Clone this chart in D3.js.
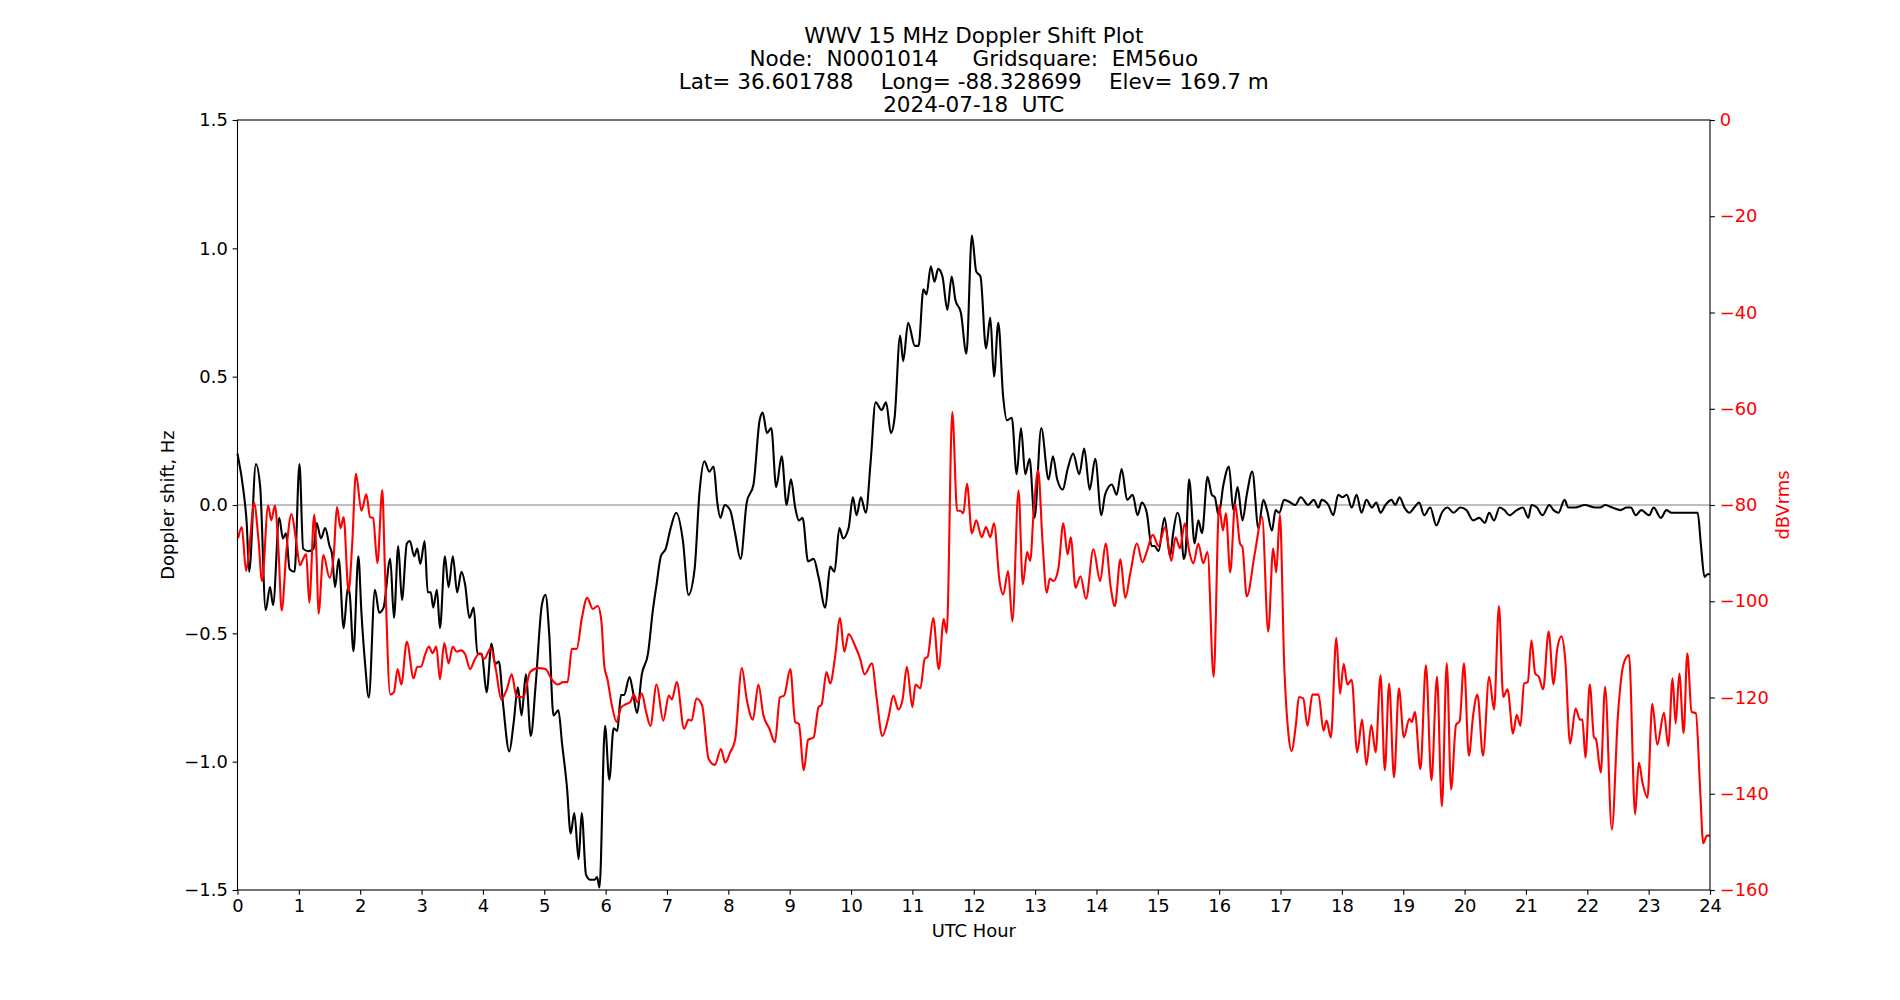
<!DOCTYPE html>
<html lang="en">
<head>
<meta charset="UTF-8">
<title>WWV Doppler</title>
<script src="https://cdn.jsdelivr.net/npm/d3@7"></script>
<style>
  body { margin: 0; background: #fff; }
  svg text { font-family: "DejaVu Sans", sans-serif; }
  .tick line { stroke: #000; stroke-width: 1.1px; }
  .tick text { font-size: 17.9px; }
</style>
</head>
<body>
<svg id="chart" width="1900" height="1000"></svg>
<script>
// chart values
var titleLines = [
  "WWV 15 MHz Doppler Shift Plot",
  "Node:  N0001014     Gridsquare:  EM56uo",
  "Lat= 36.601788    Long= -88.328699    Elev= 169.7 m",
  "2024-07-18  UTC"
];
var xTicks = d3.range(0, 25);
var dopplerTicks = [-1.5, -1.0, -0.5, 0.0, 0.5, 1.0, 1.5];
var powerTicks = [0, -20, -40, -60, -80, -100, -120, -140, -160];

// doppler shift, Hz (black)
var dopplerHours = [0.00,0.10,0.15,0.19,0.30,0.37,0.46,0.53,0.58,0.68,0.74,0.79,0.85,0.93,1.01,1.07,1.15,1.24,1.29,1.36,1.43,1.50,1.54,1.59,1.65,1.73,1.80,1.83,1.89,1.97,2.02,2.08,2.14,2.24,2.31,2.38,2.49,2.55,2.62,2.68,2.76,2.81,2.88,2.93,2.98,
  3.05,3.10,3.15,3.19,3.25,3.30,3.38,3.44,3.51,3.58,3.65,3.71,3.78,3.85,3.91,3.98,4.06,4.14,4.20,4.26,4.33,4.43,4.50,4.57,4.63,4.70,4.78,4.86,4.96,5.02,5.08,5.15,5.23,5.29,5.37,5.43,5.49,5.56,5.61,5.68,5.75,5.82,5.86,5.90,
  5.99,6.06,6.13,6.19,6.25,6.30,6.39,6.44,6.51,6.59,6.69,6.77,6.83,6.90,6.98,7.06,7.15,7.26,7.35,7.45,7.53,7.61,7.69,7.76,7.82,7.87,7.94,8.03,8.11,8.20,8.30,8.41,8.51,8.56,8.63,8.70,8.78,8.87,8.95,9.02,9.09,
  9.15,9.21,9.30,9.39,9.47,9.58,9.66,9.73,9.81,9.87,9.96,10.03,10.09,10.16,10.24,10.32,10.40,10.50,10.57,10.65,10.71,10.80,10.85,10.93,11.04,11.10,11.18,11.23,11.30,11.36,11.42,11.49,11.57,11.64,11.70,11.79,11.88,
  11.97,12.04,12.11,12.20,12.27,12.33,12.40,12.48,12.54,12.62,12.70,12.77,12.84,12.91,12.99,13.10,13.22,13.29,13.36,13.45,13.53,13.62,13.72,13.80,13.89,13.98,14.08,14.14,14.25,14.33,14.41,14.50,14.59,14.67,14.74,14.82,14.90,14.95,15.01,
  15.11,15.20,15.25,15.32,15.38,15.42,15.45,15.51,15.60,15.66,15.72,15.81,15.88,15.93,15.99,16.07,16.16,16.23,16.30,16.38,16.45,16.54,16.64,16.72,16.78,16.86,16.92,16.98,17.06,17.16,17.24,17.33,17.45,17.54,17.62,17.67,17.78,17.86,17.94,
  18.01,18.08,18.16,18.24,18.32,18.40,18.49,18.56,18.63,18.71,18.81,18.87,18.94,19.02,19.10,19.18,19.26,19.34,19.44,19.54,19.63,19.72,19.82,19.93,20.03,20.14,20.24,20.33,20.40,20.48,20.57,20.65,20.73,20.85,20.95,
  21.04,21.09,21.18,21.27,21.38,21.45,21.53,21.63,21.69,21.80,21.96,22.13,22.21,22.29,22.41,22.54,22.64,22.71,22.79,22.88,23.01,23.08,23.20,23.29,23.37,23.44,23.54,23.70,23.77,23.80,23.85,23.91,23.96,24.00];
var dopplerHz = [0.20,0.05,-0.07,-0.26,0.16,0.07,-0.41,-0.32,-0.39,-0.05,-0.13,-0.11,-0.25,-0.26,0.16,-0.17,-0.18,-0.17,-0.07,-0.13,-0.09,-0.16,-0.19,-0.32,-0.21,-0.48,-0.32,-0.35,-0.57,-0.20,-0.42,-0.62,-0.75,-0.33,-0.42,-0.40,-0.21,-0.44,-0.16,-0.37,-0.15,-0.14,-0.20,-0.17,-0.23,
  -0.14,-0.34,-0.34,-0.40,-0.33,-0.48,-0.20,-0.32,-0.20,-0.34,-0.26,-0.31,-0.44,-0.40,-0.58,-0.58,-0.73,-0.54,-0.62,-0.61,-0.78,-0.96,-0.85,-0.71,-0.82,-0.66,-0.90,-0.70,-0.39,-0.35,-0.50,-0.82,-0.80,-0.93,-1.10,-1.28,-1.20,-1.38,-1.20,-1.44,-1.46,-1.46,-1.45,-1.49,
  -0.86,-1.07,-0.87,-0.88,-0.74,-0.74,-0.67,-0.72,-0.81,-0.66,-0.58,-0.41,-0.31,-0.20,-0.17,-0.09,-0.03,-0.14,-0.35,-0.25,0.05,0.17,0.13,0.15,0.01,-0.05,0.00,-0.02,-0.11,-0.21,0.01,0.08,0.33,0.36,0.28,0.30,0.07,0.19,0.00,0.10,-0.01,
  -0.06,-0.05,-0.22,-0.21,-0.28,-0.40,-0.24,-0.26,-0.09,-0.13,-0.09,0.03,-0.04,0.03,-0.03,0.17,0.40,0.37,0.40,0.28,0.34,0.66,0.56,0.71,0.62,0.62,0.84,0.82,0.93,0.87,0.92,0.89,0.76,0.89,0.80,0.75,0.59,
  1.05,0.91,0.89,0.61,0.73,0.50,0.71,0.42,0.33,0.34,0.12,0.30,0.12,0.18,-0.05,0.30,0.10,0.19,0.10,0.06,0.14,0.20,0.12,0.22,0.06,0.18,-0.04,0.04,0.08,0.04,0.14,0.02,0.04,-0.04,0.01,-0.03,-0.16,-0.16,-0.18,
  -0.05,-0.20,-0.11,-0.03,-0.09,-0.21,-0.19,0.10,-0.15,-0.06,-0.11,0.11,0.04,0.03,-0.04,0.08,0.15,-0.02,0.07,-0.06,0.04,0.13,-0.09,0.02,-0.02,-0.10,-0.02,-0.03,0.02,0.01,0.00,0.03,0.00,0.02,-0.01,0.02,0.00,-0.04,0.04,
  0.03,0.04,-0.01,0.04,-0.03,0.02,-0.01,0.01,-0.03,0.00,0.02,0.00,0.03,-0.01,-0.03,-0.01,0.01,-0.04,-0.01,-0.08,-0.03,-0.01,-0.03,-0.01,-0.02,-0.06,-0.05,-0.07,-0.03,-0.06,-0.01,-0.02,-0.04,-0.02,-0.01,
  -0.05,0.00,-0.01,-0.04,0.00,-0.02,-0.03,0.02,-0.01,-0.01,0.00,-0.01,-0.01,0.00,-0.01,-0.02,-0.01,-0.01,-0.04,-0.02,-0.04,-0.01,-0.05,-0.02,-0.03,-0.03,-0.03,-0.03,-0.03,-0.03,-0.15,-0.28,-0.27,-0.27];

// signal level, dBVrms (red)
var powerHours = [0.01,0.07,0.14,0.20,0.27,0.34,0.40,0.50,0.55,0.61,0.67,0.72,0.80,0.88,0.95,1.02,1.07,1.12,1.17,1.25,1.29,1.32,1.40,1.50,1.57,1.62,1.68,1.73,1.81,1.87,1.93,2.02,2.10,2.16,2.21,2.28,2.36,2.40,2.49,2.55,2.61,2.67,2.76,2.87,2.93,2.99,
  3.06,3.12,3.18,3.24,3.30,3.37,3.44,3.51,3.57,3.64,3.71,3.79,3.87,3.95,4.02,4.13,4.21,4.30,4.39,4.47,4.55,4.66,4.77,4.90,5.02,5.12,5.22,5.31,5.38,5.45,5.53,5.61,5.70,5.79,5.87,5.93,5.98,6.03,
  6.10,6.18,6.25,6.33,6.40,6.46,6.52,6.59,6.66,6.73,6.83,6.94,7.03,7.08,7.16,7.28,7.35,7.40,7.48,7.57,7.68,7.78,7.88,7.95,8.03,8.11,8.22,8.30,8.40,8.49,8.57,8.67,8.76,8.84,8.91,9.01,9.09,
  9.15,9.23,9.30,9.39,9.47,9.52,9.60,9.66,9.74,9.82,9.89,9.96,10.07,10.15,10.22,10.34,10.42,10.51,10.61,10.69,10.77,10.84,10.91,11.00,11.05,11.13,11.20,11.25,11.34,11.43,11.51,11.56,11.65,11.73,11.78,11.83,11.89,11.97,12.04,
  12.13,12.20,12.27,12.33,12.42,12.48,12.56,12.63,12.73,12.80,12.87,12.92,12.98,13.05,13.12,13.19,13.24,13.30,13.38,13.46,13.53,13.58,13.66,13.74,13.83,13.95,14.06,14.15,14.23,14.30,14.39,14.47,14.55,14.66,14.75,14.81,14.92,15.01,
  15.12,15.22,15.29,15.36,15.44,15.51,15.58,15.66,15.74,15.81,15.91,16.00,16.06,16.11,16.18,16.26,16.34,16.38,16.45,16.58,16.70,16.80,16.88,16.93,16.99,17.06,17.13,17.18,17.25,17.30,17.37,17.44,17.52,17.62,17.70,17.75,17.82,17.91,17.97,18.03,
  18.09,18.16,18.25,18.33,18.40,18.48,18.55,18.63,18.70,18.77,18.85,18.93,19.01,19.10,19.14,19.19,19.28,19.37,19.46,19.55,19.63,19.71,19.78,19.86,19.92,19.99,20.07,20.14,20.21,20.30,20.40,20.48,20.56,20.63,20.70,20.79,20.85,20.91,20.97,21.03,
  21.09,21.15,21.21,21.28,21.37,21.45,21.51,21.58,21.64,21.72,21.81,21.88,21.92,21.97,22.04,22.11,22.14,22.22,22.29,22.40,22.50,22.59,22.68,22.78,22.84,22.90,22.98,23.06,23.14,23.25,23.32,23.39,23.44,23.50,23.57,23.63,23.70,23.77,23.84,23.89,23.95,24.00];
var powerDb = [-86.9,-84.6,-93.7,-88.0,-79.6,-86.9,-95.8,-80.1,-83.2,-80.1,-89.9,-101.9,-89.0,-81.9,-86.9,-92.5,-91.2,-90.2,-100.3,-82.0,-91.2,-102.6,-90.4,-95.1,-90.2,-80.4,-84.8,-82.5,-97.9,-88.0,-73.5,-81.2,-77.8,-82.5,-82.7,-92.1,-76.9,-92.1,-119.4,-118.9,-114.1,-117.3,-108.4,-116.0,-113.6,-113.6,
  -111.0,-109.4,-110.8,-109.4,-116.2,-108.7,-112.9,-109.4,-110.5,-110.2,-111.0,-114.1,-112.0,-110.8,-112.0,-109.7,-114.1,-120.4,-118.3,-115.2,-119.9,-119.9,-114.7,-113.9,-114.1,-116.2,-117.3,-116.8,-116.8,-109.9,-109.9,-103.7,-99.3,-101.6,-101.0,-104.0,-113.6,-116.2,
  -121.5,-125.1,-122.1,-121.4,-121.0,-119.4,-121.0,-119.2,-123.0,-125.9,-117.3,-124.8,-119.6,-120.4,-116.8,-126.5,-124.6,-124.8,-120.2,-121.5,-132.8,-134.0,-130.7,-133.5,-131.4,-128.8,-113.9,-120.4,-124.6,-117.3,-123.6,-126.5,-129.3,-120.0,-119.6,-114.1,-125.1,
  -125.5,-135.1,-128.8,-128.3,-122.0,-121.5,-114.7,-117.1,-111.5,-103.5,-110.5,-106.8,-109.4,-112.0,-115.2,-112.9,-120.4,-128.0,-124.1,-119.6,-122.5,-120.4,-113.6,-122.0,-117.3,-118.1,-112.0,-111.5,-103.5,-114.1,-103.7,-106.6,-60.7,-81.2,-81.2,-81.7,-75.6,-85.9,-83.2,
  -86.7,-84.6,-86.7,-83.8,-95.8,-98.6,-93.7,-104.2,-77.0,-96.5,-89.8,-91.6,-80.6,-72.8,-87.4,-98.2,-95.3,-95.8,-93.2,-83.8,-90.3,-86.7,-97.2,-94.8,-99.5,-89.2,-95.8,-88.0,-96.9,-101.0,-91.3,-99.3,-94.3,-88.0,-91.9,-90.1,-86.2,-88.5,
  -84.6,-91.6,-86.7,-89.0,-83.8,-89.5,-92.1,-88.0,-92.1,-89.8,-115.7,-80.1,-85.3,-81.7,-94.0,-79.8,-88.0,-88.8,-99.0,-90.1,-82.5,-106.3,-89.0,-94.0,-82.0,-113.1,-127.7,-131.1,-125.7,-119.9,-120.2,-125.9,-119.4,-119.4,-126.9,-124.8,-128.3,-107.6,-119.2,-113.0,
  -117.3,-116.3,-131.4,-124.6,-134.0,-125.7,-131.4,-115.4,-135.1,-117.1,-136.6,-118.1,-128.3,-124.4,-125.1,-123.0,-134.9,-113.3,-137.2,-115.7,-142.6,-112.9,-139.1,-125.7,-124.9,-112.9,-132.1,-123.6,-119.4,-132.1,-115.7,-122.5,-101.0,-119.9,-118.3,-127.5,-123.6,-125.9,-117.1,-116.8,
  -108.1,-115.0,-115.7,-118.3,-106.3,-117.3,-109.9,-107.3,-112.0,-129.6,-122.3,-124.6,-124.6,-132.5,-117.3,-128.3,-128.6,-135.6,-117.8,-147.4,-123.6,-113.1,-111.2,-144.3,-133.5,-137.7,-140.8,-121.3,-129.8,-123.2,-130.1,-116.0,-125.4,-115.0,-127.4,-110.8,-123.0,-123.3,-139.3,-150.3,-148.7,-148.7];

var W = 1900, H = 1000;
var mLeft = 237.5, mRight = 1710, mTop = 120, mBottom = 890;

var svg = d3.select('#chart');
svg.append('rect').attr('width', W).attr('height', H).attr('fill', '#fff');

var x = d3.scaleLinear().domain([0, 24]).range([mLeft, mRight]);
var yL = d3.scaleLinear().domain([-1.5, 1.5]).range([mBottom, mTop]);
var yR = d3.scaleLinear().domain([-160, 0]).range([mBottom, mTop]);

var plot = svg.append('g');

// zero reference line
plot.append('line')
  .attr('x1', x(0)).attr('x2', x(24))
  .attr('y1', yL(0)).attr('y2', yL(0))
  .attr('stroke', 'gray').attr('stroke-width', 1.1);

var dop = dopplerHours.map(function (h, i) { return [h, dopplerHz[i]]; });
var pow = powerHours.map(function (h, i) { return [h, powerDb[i]]; });

var lineL = d3.line().curve(d3.curveMonotoneX)
  .x(function (d) { return x(d[0]); })
  .y(function (d) { return yL(d[1]); });
var lineR = d3.line().curve(d3.curveMonotoneX)
  .x(function (d) { return x(d[0]); })
  .y(function (d) { return yR(d[1]); });

plot.append('path').datum(dop)
  .attr('d', lineL).attr('fill', 'none')
  .attr('stroke', '#000').attr('stroke-width', 2.1)
  .attr('stroke-linejoin', 'round');

plot.append('path').datum(pow)
  .attr('d', lineR).attr('fill', 'none')
  .attr('stroke', 'red').attr('stroke-width', 2.1)
  .attr('stroke-linejoin', 'round');

// axes
var tl = 4.86, tp = 4.86;

var gx = svg.append('g').attr('transform', 'translate(0,' + mBottom + ')')
  .call(d3.axisBottom(x).tickValues(xTicks).tickFormat(d3.format('d'))
    .tickSize(tl).tickPadding(tp).tickSizeOuter(0));
var gl = svg.append('g').attr('transform', 'translate(' + mLeft + ',0)')
  .call(d3.axisLeft(yL).tickValues(dopplerTicks).tickFormat(d3.format('.1f'))
    .tickSize(tl).tickPadding(tp).tickSizeOuter(0));
var gr = svg.append('g').attr('transform', 'translate(' + mRight + ',0)')
  .call(d3.axisRight(yR).tickValues(powerTicks).tickFormat(d3.format('d'))
    .tickSize(tl).tickPadding(tp).tickSizeOuter(0));

[gx, gl, gr].forEach(function (g) {
  g.select('.domain').remove();
  g.selectAll('.tick text').attr('fill', '#000');
});
gr.selectAll('.tick text').attr('fill', 'red');

// spines
svg.append('rect')
  .attr('x', mLeft).attr('y', mTop)
  .attr('width', mRight - mLeft).attr('height', mBottom - mTop)
  .attr('fill', 'none').attr('stroke', '#000').attr('stroke-width', 1.1);

// axis labels
svg.append('text')
  .attr('x', (mLeft + mRight) / 2).attr('y', 937)
  .attr('text-anchor', 'middle').attr('font-size', 17.9)
  .text('UTC Hour');

svg.append('text')
  .attr('transform', 'translate(174,' + ((mTop + mBottom) / 2) + ') rotate(-90)')
  .attr('text-anchor', 'middle').attr('font-size', 17.9)
  .text('Doppler shift, Hz');

svg.append('text')
  .attr('transform', 'translate(1789,' + ((mTop + mBottom) / 2) + ') rotate(-90)')
  .attr('text-anchor', 'middle').attr('font-size', 17.9)
  .attr('fill', 'red')
  .text('dBVrms');

// title
svg.append('g').selectAll('text').data(titleLines).join('text')
  .attr('x', (mLeft + mRight) / 2)
  .attr('y', function (d, i) { return 42.5 + i * 23.1; })
  .attr('text-anchor', 'middle').attr('font-size', 21.5)
  .style('white-space', 'pre')
  .text(function (d) { return d; });
</script>
</body>
</html>
